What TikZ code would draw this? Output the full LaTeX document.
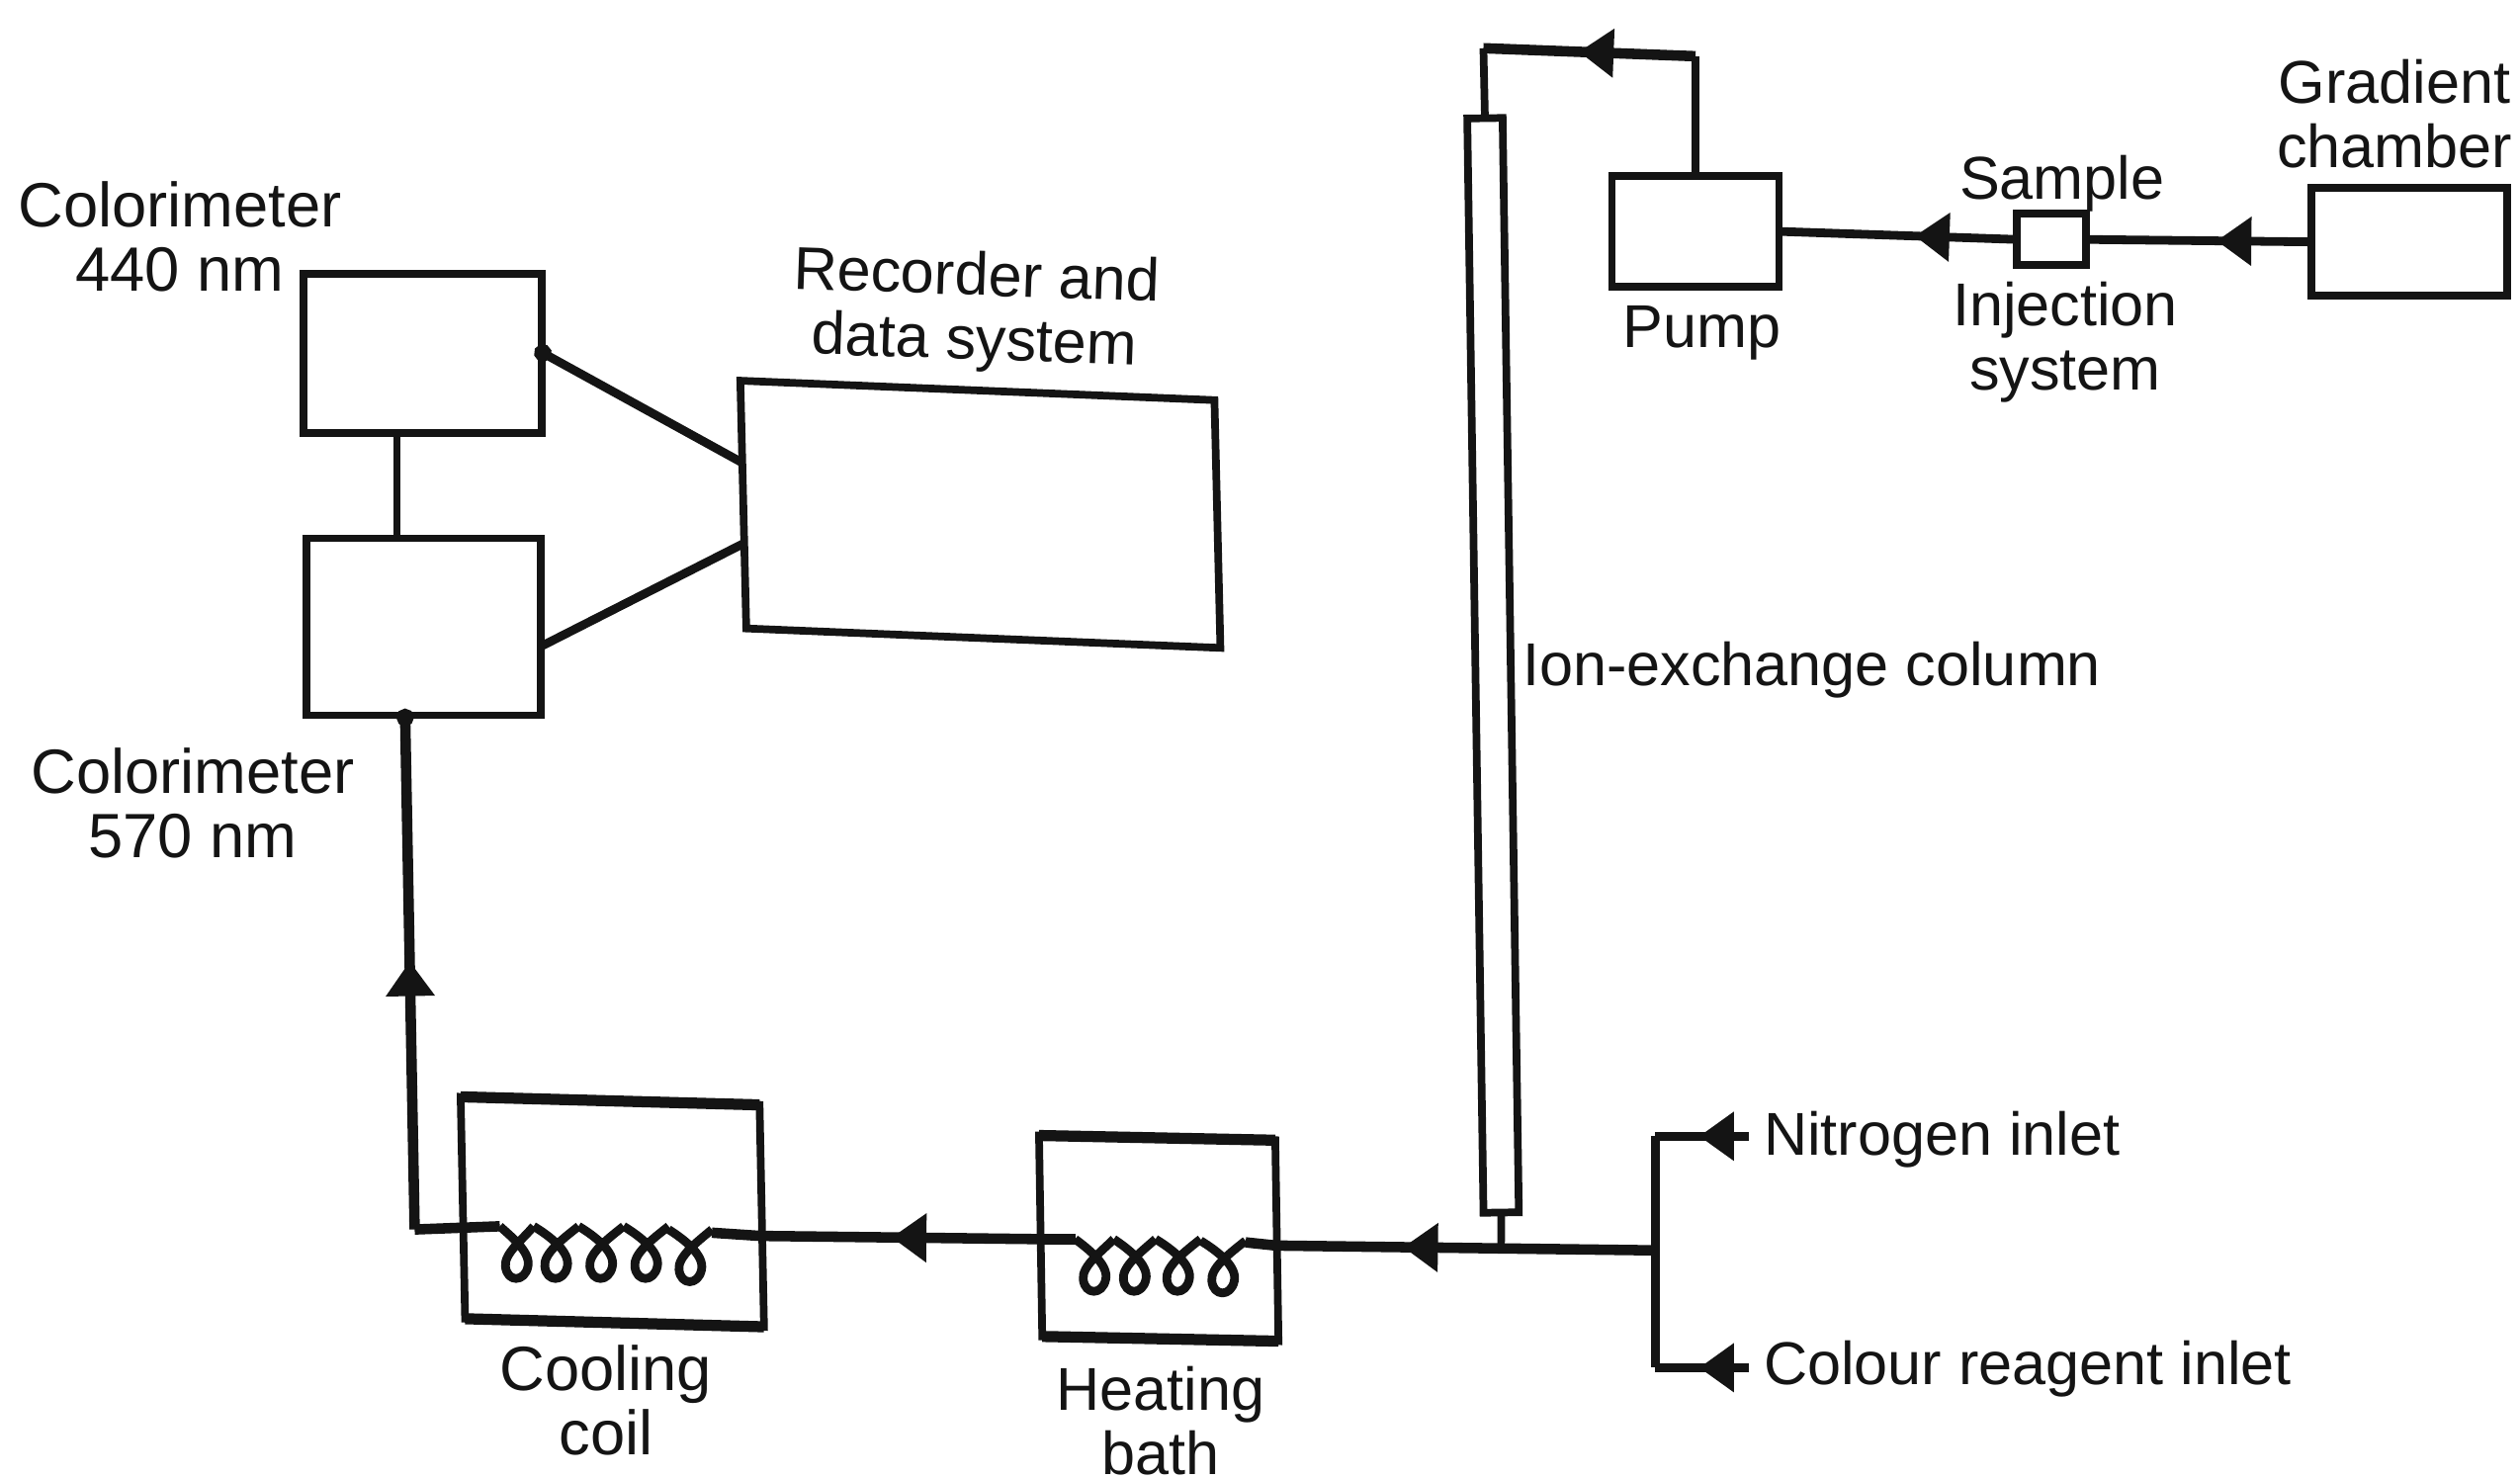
\documentclass[tikz,border=0pt]{standalone}
\usepackage{fontspec}
\setmainfont{Liberation Sans}
\usetikzlibrary{arrows.meta,decorations.markings}
\definecolor{ink}{HTML}{141414}
\def\uu{0.016256cm}
\tikzset{
  box/.style 2 args={draw=ink,line width=2.2pt,rectangle,inner sep=0pt,outer sep=0pt,fill=white,minimum width=#1*\uu,minimum height=#2*\uu},
  flowline/.style={draw=ink,line width=3pt,line join=miter},
  upline/.style={draw=ink,line width=2.5pt,line join=miter},
  thinline/.style={draw=ink,line width=2.2pt},
  flow/.style={postaction={decorate,decoration={markings,mark=at position #1 with {\arrow{Triangle[length=10pt,width=13.5pt]}}}}},
  coilline/.style={draw=ink,line width=2.5pt,line join=round},
  lab/.style={text=ink,inner sep=0pt,align=center,font=\fontsize{17.4}{18.5}\selectfont},
  labbig/.style={lab,font=\fontsize{18}{18.5}\selectfont},
  lableft/.style={lab,anchor=west},
  edge/.style={draw=ink,line width=3.2pt,line cap=butt}
}
% box with heavier top and bottom edges
\newcommand{\heavy}[1]{\draw[edge] (#1.north west) -- (#1.north east); \draw[edge] (#1.south west) -- (#1.south east);}
% one coil turn between two peaks
\newcommand{\coilturn}[3]{%
  \pgfmathsetmacro{\cc}{(#1+#2)/2}\pgfmathsetmacro{\yy}{#3}%
  \draw[coilline] (#1,\yy) .. controls (\cc-4,\yy+6) and (\cc+9,\yy+16) .. (\cc+7,\yy+25)
    .. controls (\cc+5,\yy+35) and (\cc-6,\yy+35) .. (\cc-7,\yy+25)
    .. controls (\cc-8,\yy+17) and (\cc+4,\yy+8) .. (#2,\yy);}
\begin{document}
\begin{tikzpicture}[x=0.016256cm,y=-0.016256cm]
\useasboundingbox (0,0) rectangle (1568,920);
% boxes
\node[box={148}{99}] (c440) at (263,220) {};
\node[box={146}{110}] (c570) at (263.5,390) {};
\node[box={295}{154},yslant=-0.041,xslant=-0.024] (rec) at (610,320) {};
\node[box={22}{681},rotate=0.85] (col) at (929,414) {};
\node[box={104}{69}] (pump) at (1055,144) {};
\node[box={43}{32}] (inj) at (1276.5,149) {};
\node[box={122}{67}] (grad) at (1499,150.5) {};
\node[box={147}{125},yslant=-0.02,xslant=-0.016] (bath) at (721,770.5) {};
\node[box={186}{138},yslant=-0.027,xslant=-0.02] (cool) at (381,754) {};
\heavy{bath}\heavy{cool}
% free points
\coordinate (topr) at (1055,35);
\coordinate (topl) at (923,30);
\coordinate (j) at (1030,778);
\coordinate (jn) at (1030,707);
\coordinate (js) at (1030,851);
\coordinate (nin) at (1088,707);
\coordinate (cin) at (1088,851);
\coordinate (colj) at (934,777);
\coordinate (bl) at (258,765);
\coordinate (c570in) at (252,441);
\coordinate (c440out) at (333,217);
\coordinate (c570out) at (337,402);
\coordinate (recin1) at (462,288);
\coordinate (recin2) at (463,338);
\coordinate (coolin) at (443,767);
\coordinate (coolout) at (311,763);
\coordinate (bathin) at (775,773);
\coordinate (bathout) at (669,771);
\coordinate (bathr) at (794,775);
\coordinate (bathw) at (647,771);
\coordinate (coole) at (473,769);
% flow connectors
\draw[thinline] (pump.north) -- (topr);
\draw[flowline,flow=.55] (topr) -- (topl);
\draw[thinline] (topl) -- (col.north);
\draw[upline,flow=.43] (inj.west) -- (pump.east);
\draw[upline,flow=.42] (grad.west) -- (inj.east);
\draw[flowline,flow=.665] (j) -- (bathr);
\draw[flowline] (bathr) -- (bathin);
\draw[flowline] (bathout) -- (bathw);
\draw[flowline,flow=.53] (bathw) -- (coole);
\draw[flowline] (coole) -- (coolin);
\draw[flowline] (coolout) -- (bl);
\draw[flowline,flow=.515,-{Circle[length=5pt]}] (bl) -- (c570in);
\draw[thinline] (col.south) -- (colj);
\draw[upline] (jn) -- (js);
\draw[upline] (jn) -- (nin);
\draw[upline] (js) -- (cin);
\draw[upline,flow=.53] (nin) -- (jn);
\draw[upline,flow=.53] (cin) -- (js);
% signal connectors
\draw[thinline] (c440.south -| 247,0) -- (c570.north -| 247,0);
\draw[upline,{Circle[length=5pt]}-] (c440out) -- (recin1);
\draw[upline] (c570out) -- (recin2);
% coils
\coilturn{311}{332}{763}
\coilturn{332}{360}{763}
\coilturn{360}{388}{763}
\coilturn{388}{416}{763}
\coilturn{416}{443}{765}
\coilturn{669}{693}{771}
\coilturn{693}{719}{771}
\coilturn{719}{747}{771}
\coilturn{747}{775}{772}
% labels
\node[labbig] (t1) at (112,147) {Colorimeter\\440 nm};
\node[labbig] (t2) at (120,500) {Colorimeter\\570 nm};
\node[lab,rotate=-2] (t3) at (607,194) {Recorder and\\data system};
\node[lab] (t4) at (1059,207) {Pump};
\node[lab] (t5) at (1283,114) {Sample};
\node[lab] (t6) at (1285,213) {Injection\\system};
\node[lab] (t7) at (1490,71) {Gradient\\chamber};
\node[lableft] (t8) at (947,417) {Ion-exchange column};
\node[lableft] (t9) at (1097,709) {Nitrogen inlet};
\node[lableft] (t10) at (1097,852) {Colour reagent inlet};
\node[labbig] (t11) at (377,871) {Cooling\\coil};
\node[lab] (t12) at (722,884) {Heating\\bath};
\end{tikzpicture}
\end{document}
